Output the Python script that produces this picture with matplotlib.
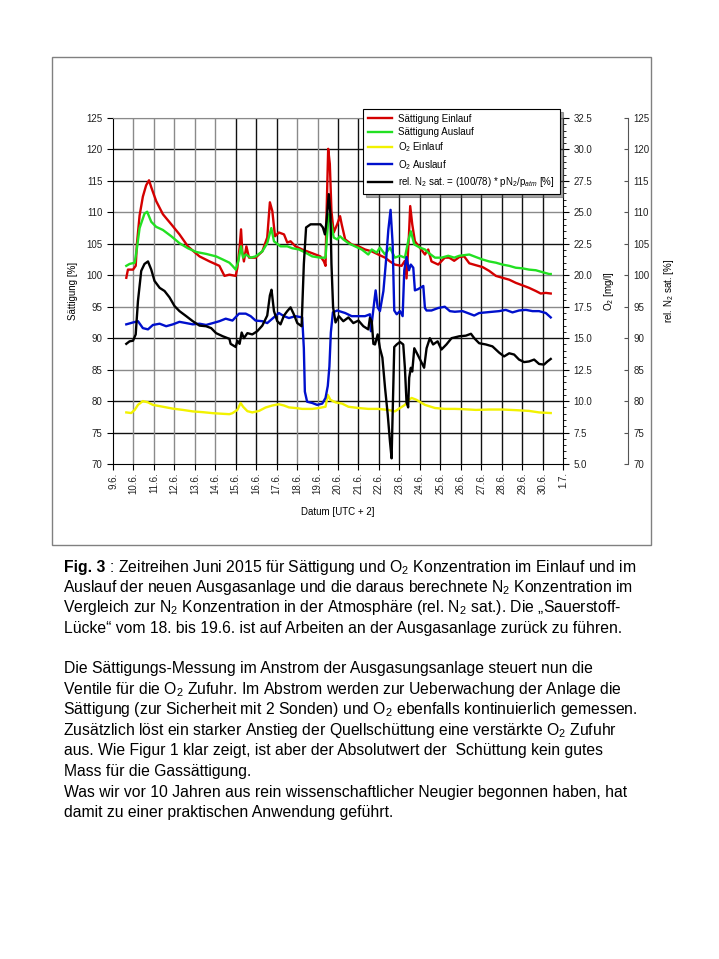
import matplotlib.pyplot as plt
from matplotlib.ticker import MultipleLocator, FormatStrFormatter
from matplotlib.patches import Rectangle

plt.rcParams['font.family'] = ['Liberation Sans', 'DejaVu Sans']
plt.rcParams['mathtext.fontset'] = 'custom'
plt.rcParams['mathtext.rm'] = 'Liberation Sans'
plt.rcParams['mathtext.it'] = 'Liberation Sans:italic'
plt.rcParams['mathtext.bf'] = 'Liberation Sans:bold'

# --- data (time = day of June 2015, UTC+2) ---
t_sat_ein = [9.65, 9.73, 9.98, 10.11, 10.17, 10.30, 10.46, 10.62, 10.76, 10.87, 11.11, 11.44, 11.85,
             12.25, 12.66, 13.23, 13.72, 14.20, 14.45, 14.69, 15.00, 15.08, 15.19, 15.26, 15.32, 15.40,
             15.52, 15.65, 15.97, 16.30, 16.54, 16.67, 16.79, 16.92, 17.11, 17.36, 17.52, 17.68, 17.92,
             18.25, 18.74, 19.14, 19.31, 19.39, 19.44, 19.52, 19.60, 19.68, 19.79, 19.96, 20.10, 20.18,
             20.35, 20.67, 21.00, 21.32, 21.65, 21.97, 22.30, 22.54, 22.78, 23.11, 23.27, 23.35, 23.47,
             23.53, 23.63, 23.76, 24.00, 24.25, 24.41, 24.57, 24.90, 25.22, 25.44, 25.68, 25.93, 26.17,
             26.42, 26.74, 27.07, 27.39, 27.72, 28.04, 28.37, 28.69, 29.02, 29.34, 29.67, 29.91, 30.16, 30.40]
sat_ein = [99.6, 100.9, 100.9, 101.5, 105.0, 109.5, 112.5, 114.3, 115.1, 114.0, 111.8, 109.7, 108.1,
           106.5, 104.6, 103.0, 102.2, 101.5, 99.9, 100.1, 99.9, 101.2, 104.4, 107.3, 103.8, 102.2,
           104.6, 102.8, 102.8, 103.8, 106.0, 111.6, 110.2, 106.2, 106.8, 106.5, 105.2, 105.4, 104.6,
           104.1, 103.5, 103.0, 102.2, 101.5, 109.7, 120.1, 117.7, 110.2, 106.8, 108.1, 109.4, 108.1,
           105.7, 104.9, 104.6, 104.1, 103.8, 103.3, 102.8, 102.2, 101.7, 101.5, 102.3, 99.5, 106.5,
           111.0, 108.1, 105.4, 104.4, 103.3, 104.1, 102.2, 101.7, 102.8, 102.8, 102.3, 102.9, 103.0,
           101.9, 101.6, 101.3, 100.7, 99.9, 99.6, 99.3, 98.8, 98.4, 98.0, 97.5, 97.1, 97.2, 97.1]

t_sat_aus = [9.65, 9.81, 10.06, 10.17, 10.30, 10.54, 10.67, 10.87, 11.11, 11.44, 11.85, 12.25, 12.66,
             13.07, 13.55, 14.04, 14.37, 14.69, 14.84, 15.00, 15.13, 15.26, 15.36, 15.49, 15.73, 15.97,
             16.30, 16.54, 16.74, 16.87, 17.19, 17.52, 17.76, 18.09, 18.41, 18.74, 19.14, 19.39, 19.47,
             19.55, 19.68, 19.79, 19.96, 20.10, 20.26, 20.51, 20.83, 21.16, 21.48, 21.65, 21.89, 22.05,
             22.30, 22.54, 22.78, 23.03, 23.27, 23.43, 23.56, 23.73, 24.00, 24.25, 24.41, 24.74, 25.06,
             25.39, 25.68, 25.93, 26.42, 26.74, 27.07, 27.39, 27.72, 28.04, 28.37, 28.69, 29.02, 29.34,
             29.67, 29.99, 30.32, 30.40]
sat_aus = [101.5, 101.8, 102.0, 104.3, 107.5, 109.8, 110.1, 108.5, 107.7, 107.2, 106.2, 105.1, 104.3,
           103.7, 103.4, 103.0, 102.5, 102.0, 101.5, 100.9, 102.3, 104.6, 102.8, 103.3, 102.8, 103.0,
           103.8, 105.1, 107.5, 105.4, 104.6, 104.6, 104.3, 104.1, 103.6, 103.0, 102.8, 102.8, 106.5,
           109.7, 108.1, 106.0, 105.7, 106.2, 105.7, 105.1, 104.6, 104.1, 103.3, 104.1, 103.6, 104.4,
           103.3, 104.4, 102.8, 103.1, 102.8, 105.4, 107.0, 104.9, 104.4, 104.1, 103.6, 102.8, 102.8,
           103.1, 102.8, 103.1, 103.3, 102.9, 102.5, 102.2, 102.0, 101.7, 101.5, 101.2, 101.1, 100.9,
           100.8, 100.5, 100.2, 100.2]

t_o2_ein = [9.65, 9.89, 10.06, 10.22, 10.46, 10.71, 10.95, 11.44, 11.93, 12.41, 12.90, 13.39, 13.88,
            14.37, 14.69, 14.84, 15.08, 15.24, 15.36, 15.57, 15.81, 16.14, 16.46, 16.79, 17.11, 17.36,
            17.60, 17.92, 18.25, 18.74, 19.07, 19.39, 19.50, 19.63, 19.88, 20.20, 20.51, 21.00, 21.48,
            21.97, 22.46, 22.78, 23.03, 23.27, 23.47, 23.60, 23.84, 24.25, 24.74, 25.22, 25.71, 26.09,
            26.74, 27.39, 28.04, 28.69, 29.34, 29.83, 30.40]
o2_ein = [9.10, 9.05, 9.30, 9.70, 10.00, 9.90, 9.70, 9.55, 9.40, 9.30, 9.18, 9.12, 9.04,
          8.99, 8.96, 9.04, 9.30, 9.85, 9.55, 9.20, 9.10, 9.22, 9.49, 9.65, 9.75, 9.65,
          9.50, 9.45, 9.38, 9.38, 9.45, 9.55, 10.50, 10.10, 9.90, 9.80, 9.55, 9.45, 9.38,
          9.38, 9.30, 9.18, 9.45, 9.70, 10.10, 10.25, 10.10, 9.70, 9.45, 9.38, 9.38, 9.36,
          9.30, 9.33, 9.33, 9.28, 9.22, 9.10, 9.05]

t_o2_aus = [9.65, 9.98, 10.22, 10.46, 10.71, 10.95, 11.28, 11.60, 11.93, 12.25, 12.58, 12.90, 13.23,
            13.55, 13.88, 14.20, 14.51, 14.84, 15.16, 15.49, 15.73, 15.97, 16.30, 16.54, 16.79, 17.11,
            17.36, 17.60, 17.92, 18.25, 18.33, 18.38, 18.49, 18.74, 18.98, 19.23, 19.39, 19.50, 19.58,
            19.65, 19.75, 19.96, 20.35, 20.67, 21.00, 21.32, 21.56, 21.61, 21.68, 21.78, 21.84, 21.94,
            22.05, 22.22, 22.35, 22.46, 22.57, 22.67, 22.75, 22.87, 23.03, 23.16, 23.24, 23.35, 23.47,
            23.56, 23.68, 23.76, 23.92, 24.17, 24.25, 24.33, 24.57, 24.90, 25.22, 25.47, 25.71, 26.09,
            26.42, 26.66, 26.90, 27.23, 27.55, 27.88, 28.20, 28.53, 28.85, 29.18, 29.51, 29.83, 30.16, 30.40]
o2_aus = [16.10, 16.25, 16.35, 15.80, 15.70, 16.05, 16.15, 15.95, 16.10, 16.30, 16.20, 16.10, 16.15,
          16.05, 16.20, 16.35, 16.55, 16.40, 16.95, 16.95, 16.75, 16.40, 16.35, 16.20, 16.55, 17.00,
          16.75, 16.60, 16.75, 16.65, 14.20, 10.75, 9.95, 9.85, 9.70, 9.80, 10.25, 11.20, 12.75,
          15.45, 17.05, 17.20, 17.00, 16.75, 16.75, 16.75, 16.90, 15.55, 16.60, 18.00, 18.80, 17.45,
          17.15, 18.75, 21.20, 23.60, 25.20, 22.55, 17.20, 16.90, 17.15, 16.75, 20.40, 21.45, 20.40,
          20.85, 20.60, 18.80, 18.90, 19.15, 17.40, 17.20, 17.20, 17.40, 17.50, 17.15, 17.10, 17.15,
          16.95, 16.80, 17.00, 17.05, 17.10, 17.15, 17.25, 17.05, 17.20, 17.25, 17.15, 17.15, 17.00, 16.65]

t_n2 = [9.65, 9.81, 9.98, 10.11, 10.22, 10.38, 10.54, 10.71, 10.87, 11.03, 11.28, 11.52, 11.76, 12.01,
        12.25, 12.58, 12.90, 13.23, 13.55, 13.80, 14.04, 14.37, 14.69, 14.75, 15.00, 15.08, 15.19, 15.29,
        15.40, 15.57, 15.81, 16.05, 16.30, 16.54, 16.67, 16.75, 16.87, 17.03, 17.19, 17.36, 17.52, 17.68,
        17.84, 18.01, 18.22, 18.33, 18.44, 18.66, 18.90, 19.14, 19.26, 19.36, 19.44, 19.55, 19.63, 19.68,
        19.76, 19.88, 20.04, 20.26, 20.51, 20.75, 21.00, 21.24, 21.48, 21.56, 21.65, 21.73, 21.81, 21.94,
        22.05, 22.17, 22.30, 22.43, 22.54, 22.62, 22.67, 22.75, 22.87, 23.03, 23.19, 23.27, 23.35, 23.43,
        23.48, 23.56, 23.63, 23.73, 23.89, 24.09, 24.21, 24.33, 24.49, 24.65, 24.87, 25.06, 25.30, 25.55,
        25.68, 25.93, 26.25, 26.50, 26.66, 26.90, 27.23, 27.55, 27.88, 28.12, 28.37, 28.61, 28.85, 29.10,
        29.34, 29.59, 29.83, 30.07, 30.24, 30.40]
n2_sat = [89.1, 89.5, 89.6, 90.6, 95.9, 100.7, 101.8, 102.2, 100.9, 99.1, 98.0, 97.5, 96.5, 95.1,
          94.3, 93.5, 92.7, 92.0, 91.9, 91.6, 90.8, 90.3, 89.9, 89.1, 88.6, 89.6, 89.1, 90.9,
          90.0, 90.8, 90.6, 91.1, 92.0, 93.6, 96.8, 97.7, 94.3, 92.7, 92.2, 93.6, 94.3, 94.9,
          93.8, 92.4, 91.9, 101.8, 107.6, 108.1, 108.1, 108.1, 107.6, 106.5, 108.6, 112.9, 109.7, 101.8,
          94.9, 92.5, 93.5, 92.7, 93.3, 92.4, 92.8, 91.9, 91.4, 93.2, 92.7, 89.1, 89.0, 90.6,
          88.4, 86.9, 82.1, 77.9, 73.6, 70.9, 77.8, 88.6, 89.0, 89.4, 89.0, 85.3, 79.8, 79.0,
          83.7, 85.3, 84.7, 88.4, 87.4, 86.1, 85.3, 88.4, 90.0, 89.0, 89.5, 88.2, 89.0, 90.0,
          90.1, 90.3, 90.4, 90.7, 90.0, 89.2, 89.0, 88.7, 87.7, 87.1, 87.6, 87.4, 86.6, 86.2,
          86.3, 86.6, 85.9, 85.8, 86.3, 86.7]

days = list(range(9, 32))
day_labels = [f'{d}.6.' for d in range(9, 31)] + ['1.7.']
sat_ticks = list(range(70, 130, 5))

legend_labels = ['Sättigung Einlauf', 'Sättigung Auslauf', 'O$_2$ Einlauf', 'O$_2$ Auslauf',
                 'rel. N$_2$ sat. = (100/78) * pN$_2$/p$_{atm}$ [%]']

fig_label = 'Fig. 3'
caption = [' : Zeitreihen Juni 2015 für Sättigung und O$_2$ Konzentration im Einlauf und im',
           'Auslauf der neuen Ausgasanlage und die daraus berechnete N$_2$ Konzentration im',
           'Vergleich zur N$_2$ Konzentration in der Atmosphäre (rel. N$_2$ sat.). Die „Sauerstoff-',
           'Lücke“ vom 18. bis 19.6. ist auf Arbeiten an der Ausgasanlage zurück zu führen.']
paragraph = ['Die Sättigungs-Messung im Anstrom der Ausgasungsanlage steuert nun die',
             'Ventile für die O$_2$ Zufuhr. Im Abstrom werden zur Ueberwachung der Anlage die',
             'Sättigung (zur Sicherheit mit 2 Sonden) und O$_2$ ebenfalls kontinuierlich gemessen.',
             'Zusätzlich löst ein starker Anstieg der Quellschüttung eine verstärkte O$_2$ Zufuhr',
             'aus. Wie Figur 1 klar zeigt, ist aber der Absolutwert der  Schüttung kein gutes',
             'Mass für die Gassättigung.',
             'Was wir vor 10 Jahren aus rein wissenschaftlicher Neugier begonnen haben, hat',
             'damit zu einer praktischen Anwendung geführt.']

W, H = 719, 959
fig = plt.figure(figsize=(W / 100, H / 100), dpi=100)

# frame around the chart
fig.patches.append(Rectangle((52 / W, 1 - 545 / H), 599 / W, 488 / H, transform=fig.transFigure,
                             fill=False, edgecolor='#808080', lw=1))

ax = fig.add_axes([113 / W, 1 - 464 / H, 450 / W, 346 / H])
ax2 = ax.twinx()
ax3 = ax.twinx()

tick_kw = dict(labelsize=7, labelcolor='#222222')

# main axis (Sättigung)
ax.set_xlim(9, 31)
ax.set_ylim(70, 125)
ax.set_xticks(days)
ax.set_xticklabels(day_labels, rotation=90)
ax.set_yticks(sat_ticks)
ax.tick_params(axis='both', direction='out', length=4, width=0.8, **tick_kw)
ax.tick_params(axis='x', pad=2)
gray_h = {125, 110, 100, 95, 85}
for v in sat_ticks[1:]:
    ax.axhline(v, color='#8a8a8a' if v in gray_h else '#111111', lw=1, zorder=0)
gray_v = {10, 11, 12, 13, 14, 18, 19}
for d in days[1:-1]:
    ax.axvline(d, color='#8a8a8a' if d in gray_v else '#111111', lw=1, zorder=0)
ax.spines['top'].set_color('#8a8a8a')
ax.spines['right'].set_visible(False)
ax.set_ylabel('Sättigung [%]', fontsize=7)
ax.yaxis.set_label_coords(-0.078, 0.5)
ax.set_xlabel('Datum [UTC + 2]', fontsize=7)
ax.xaxis.set_label_coords(0.5, -0.124)

# O2 axis
ax2.set_ylim(5, 32.5)
ax2.yaxis.set_major_locator(MultipleLocator(2.5))
ax2.yaxis.set_minor_locator(MultipleLocator(0.5))
ax2.yaxis.set_major_formatter(FormatStrFormatter('%.1f'))
ax2.tick_params(axis='y', which='major', direction='out', length=4, width=0.8, **tick_kw)
ax2.tick_params(axis='y', which='minor', direction='out', length=2, width=0.6)
for s in ['top', 'bottom', 'left']:
    ax2.spines[s].set_visible(False)
ax2.set_ylabel('O$_2$ [mg/l]', fontsize=7)
ax2.yaxis.set_label_coords(1.087, 0.5)

# rel. N2 sat. axis
ax3.set_ylim(70, 125)
ax3.set_yticks(sat_ticks)
ax3.spines['right'].set_position(('axes', 1.144))
ax3.spines['right'].set_color('#555555')
for s in ['top', 'bottom', 'left']:
    ax3.spines[s].set_visible(False)
ax3.tick_params(axis='y', direction='in', length=3, width=0.8, pad=4, color='#555555', **tick_kw)
ax3.set_ylabel('rel. N$_2$ sat. [%]', fontsize=7)
ax3.yaxis.set_label_coords(1.22, 0.5)

lw = 1.7
l1, = ax.plot(t_sat_ein, sat_ein, color='#d40000', lw=lw)
l2, = ax.plot(t_sat_aus, sat_aus, color='#22e022', lw=lw)
l3, = ax2.plot(t_o2_ein, o2_ein, color='#f2f200', lw=lw)
l4, = ax2.plot(t_o2_aus, o2_aus, color='#0010cc', lw=lw)
l5, = ax3.plot(t_n2, n2_sat, color='black', lw=lw)

leg = ax3.legend([l1, l2, l3, l4, l5], legend_labels, loc='upper right',
                 bbox_to_anchor=(0.993, 1.026), borderaxespad=0, fontsize=7,
                 fancybox=False, edgecolor='black', framealpha=1, shadow=True,
                 handlelength=2.4, labelspacing=0.35, borderpad=0.5, handletextpad=0.7)
leg.get_frame().set_linewidth(0.8)
leg.set_zorder(10)

# caption and body text
fs = 11.3
renderer = fig.canvas.get_renderer()
t0 = fig.text(64 / W, 1 - 572 / H, fig_label, fontsize=fs, fontweight='bold', va='baseline', ha='left')
x_after = t0.get_window_extent(renderer).x1 / W
for i, line in enumerate(caption):
    x0 = x_after if i == 0 else (63 if '$' in line else 64) / W
    fig.text(x0, 1 - (572 + i * 20.2) / H, line, fontsize=fs, va='baseline', ha='left')
for i, line in enumerate(paragraph):
    x0 = (63 if '$' in line else 64) / W
    fig.text(x0, 1 - (673 + i * 20.6) / H, line, fontsize=fs, va='baseline', ha='left')

fig.savefig('out.png', dpi=100)
